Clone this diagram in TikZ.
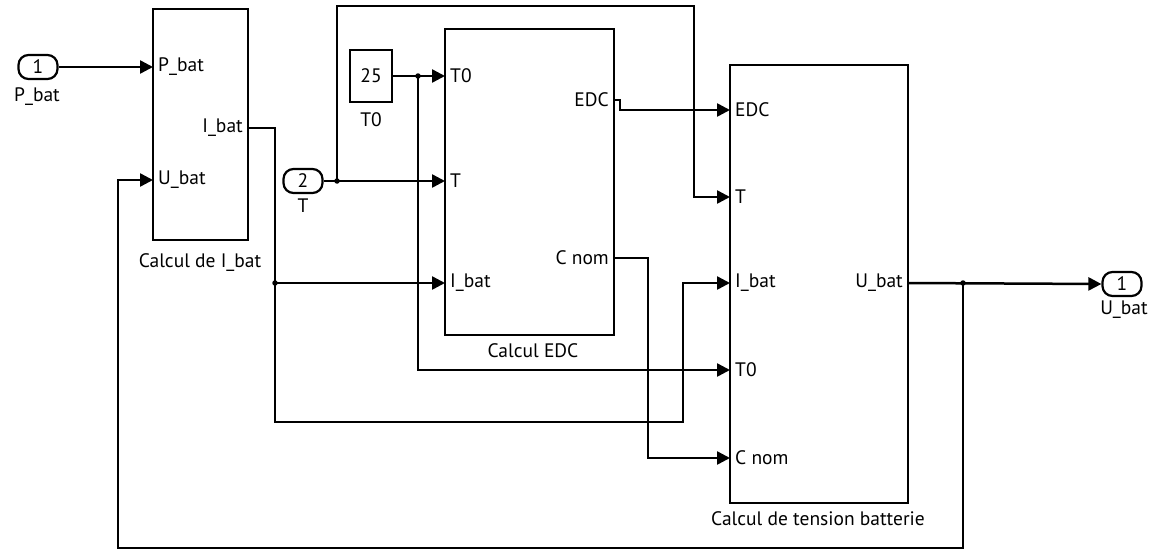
\documentclass[tikz,border=0pt]{standalone}
\usepackage{fontspec}
\setmainfont{PT Sans}
\usetikzlibrary{arrows.meta}
\begin{document}
\begin{tikzpicture}[x=1pt,y=-1pt,
  font=\fontsize{19.5}{22}\selectfont,
  blk/.style={draw,line width=2.5pt,rectangle,inner sep=0pt},
  ioport/.style={draw,line width=2.2pt,rounded corners=10pt,minimum width=39pt,minimum height=24pt,inner sep=0pt},
  inl/.style={anchor=west,inner xsep=5pt,inner ysep=0pt},
  outl/.style={anchor=east,inner xsep=5pt,inner ysep=0pt},
  wa/.style={line width=2.5pt,-{Triangle[length=13pt,width=13pt]}},
  dot/.style={circle,fill,inner sep=0pt,minimum size=5.5pt}
]
\useasboundingbox (0,0) rectangle (1158,551);
% blocks
\node[blk,minimum width=95pt,minimum height=231pt] (b1) at (200.5,124.5) {};
\node[blk,minimum width=169pt,minimum height=306pt] (b2) at (529.5,182) {};
\node[blk,minimum width=178pt,minimum height=438pt] (b3) at (819,284) {};
\node[blk,minimum width=42pt,minimum height=52pt] (c25) at (371,76) {25};
\node[ioport] (in1) at (38,67) {1};
\node[ioport] (in2) at (303,181) {2};
\node[ioport] (out1) at (1122,284) {1};
% block labels
\node (lb1) at (200,263) {Calcul de I\_bat};
\node (lb2) at (533,351) {Calcul EDC};
\node (lb3) at (818,519) {Calcul de tension batterie};
\node (lc25) at (371,120) {T0};
\node (lin1) at (37,97) {P\_bat};
\node (lin2) at (303,206) {T};
\node (lout1) at (1124,310) {U\_bat};
% ports block 1
\node[inl] (b1P) at (153,67) {P\_bat};
\node[inl] (b1U) at (153,180) {U\_bat};
\node[outl] (b1I) at (248,128) {I\_bat};
% ports block 2
\node[inl] (b2T0) at (445,76) {T0};
\node[inl] (b2T) at (445,181) {T};
\node[inl] (b2I) at (445,283) {I\_bat};
\node[outl] (b2E) at (614,100) {EDC};
\node[outl] (b2C) at (614,258) {C nom};
% ports block 3
\node[inl] (b3E) at (730,110) {EDC};
\node[inl] (b3T) at (730,197) {T};
\node[inl] (b3I) at (730,283) {I\_bat};
\node[inl] (b3T0) at (730,370) {T0};
\node[inl] (b3C) at (730,458) {C nom};
\node[outl] (b3U) at (908,283) {U\_bat};
% junctions / bends
\coordinate (j1) at (275,283);
\coordinate (k1) at (683,422);
\coordinate (j2) at (337,181);
\coordinate (t1) at (337,6);
\coordinate (t2) at (694,6);
\coordinate (j3) at (418,76);
\coordinate (e1) at (620,100);
\coordinate (cn) at (648,458);
\coordinate (j4) at (963,283);
\coordinate (f1) at (963,548);
\coordinate (f2) at (118,548);
% wires
\draw[wa] (in1.east) -- (b1P.west);
\draw[wa] (b1I.east) -| (j1) -- (b2I.west);
\draw[wa] (j1) |- (k1) |- (b3I.west);
\draw[wa] (in2.east) -- (b2T.west);
\draw[wa] (j2) -- (t1) -- (t2) |- (b3T.west);
\draw[wa] (c25.east) -- (b2T0.west);
\draw[wa] (j3) |- (b3T0.west);
\draw[wa] (b2E.east) -- (e1) |- (b3E.west);
\draw[wa] (b2C.east) -| (cn) -- (b3C.west);
\draw[wa] (b3U.east) -- (out1.west);
\draw[wa] (j4) -- (f1) -- (f2) |- (b1U.west);
\node[dot] at (j1) {};
\node[dot] at (j2) {};
\node[dot] at (j3) {};
\node[dot] at (j4) {};
\end{tikzpicture}
\end{document}
